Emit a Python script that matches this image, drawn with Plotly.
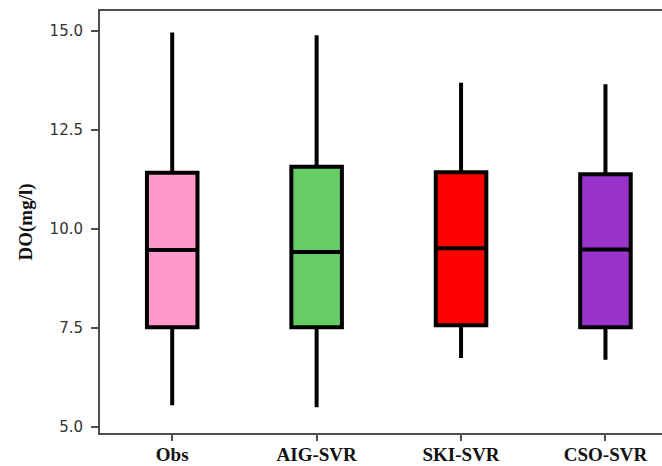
import plotly.graph_objects as go

categories = ["Obs", "AIG-SVR", "SKI-SVR", "CSO-SVR"]
lower_whisker = [5.55, 5.50, 6.74, 6.70]
q1_values = [7.52, 7.52, 7.57, 7.52]
median_values = [9.47, 9.42, 9.51, 9.48]
q3_values = [11.42, 11.57, 11.43, 11.38]
upper_whisker = [14.96, 14.89, 13.69, 13.65]
colors = ["#FF99CC", "#66CC66", "#FF0000", "#9933CC"]

y_tickvals = [5.0, 7.5, 10.0, 12.5, 15.0]
y_ticktext = ["5.0", "7.5", "10.0", "12.5", "15.0"]

fig = go.Figure()
for i, cat in enumerate(categories):
    fig.add_trace(go.Box(
        x=[i],
        q1=[q1_values[i]],
        median=[median_values[i]],
        q3=[q3_values[i]],
        lowerfence=[lower_whisker[i]],
        upperfence=[upper_whisker[i]],
        fillcolor=colors[i],
        line=dict(color="black", width=4),
        width=0.35,
        boxpoints=False,
        whiskerwidth=0,
        showlegend=False,
        hoverinfo="skip",
    ))

# The reference frame is cropped on the right: the plot area runs past the window edge
fig.update_layout(
    width=682, height=466,
    margin=dict(l=100, r=0, t=11, b=33, autoexpand=False),
    paper_bgcolor="white", plot_bgcolor="white",
    showlegend=False,
)
fig.update_xaxes(
    range=[-0.5, 3.53],
    tickmode="array", tickvals=list(range(len(categories))), ticktext=categories,
    showgrid=False, zeroline=False, automargin=False,
    showline=True, linecolor="#4d4d4d", linewidth=2, mirror=True,
    ticks="outside", ticklen=6, tickwidth=2, tickcolor="#4d4d4d",
    ticklabelstandoff=-3,
    tickfont=dict(family="Liberation Serif", size=19, color="#111111", weight="bold"),
)
fig.update_yaxes(
    range=[4.85, 15.5],
    tickmode="array", tickvals=y_tickvals, ticktext=y_ticktext,
    showgrid=False, zeroline=False, automargin=False,
    showline=True, linecolor="#4d4d4d", linewidth=2, mirror=False,
    ticks="outside", ticklen=7, tickwidth=2, tickcolor="#4d4d4d",
    ticklabelstandoff=5,
    tickfont=dict(family="DejaVu Sans", size=15, color="#333333"),
    title=dict(text="DO(mg/l)", font=dict(family="Liberation Serif", size=19, color="#111111", weight="bold"), standoff=12),
)

fig.write_html(
    "out.html",
    config={"displayModeBar": False},
    post_script=(
        "document.body.style.margin='0';"
        "document.body.style.overflow='hidden';"
        "document.documentElement.style.overflow='hidden';"
    ),
)
